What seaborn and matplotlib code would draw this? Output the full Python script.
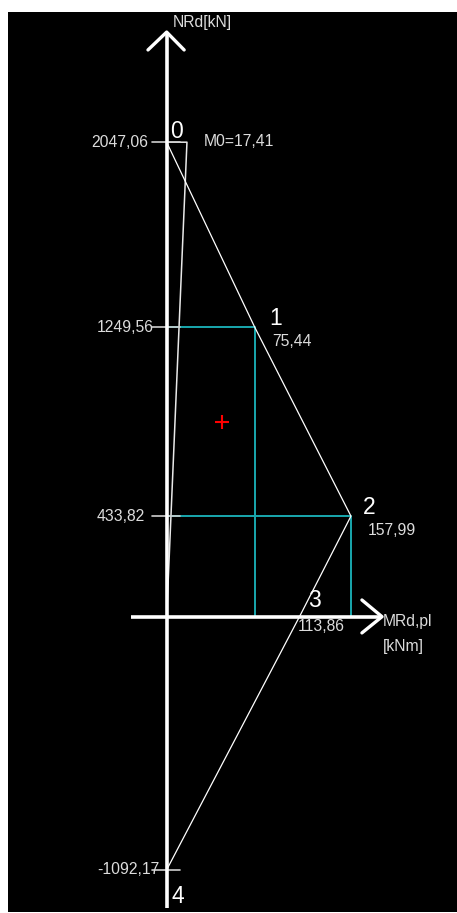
import matplotlib
matplotlib.use("Agg")
import matplotlib.pyplot as plt
import matplotlib.transforms as mtransforms
import seaborn as sns
import pandas as pd

# ---- data ----
point_names = ["0", "1", "2", "3", "4"]
m_values = [0.0, 75.44, 157.99, 113.86, 0.0]          # MRd,pl [kNm]
n_values = [2047.06, 1249.56, 433.82, 0.0, -1092.17]  # NRd [kN]
m0_value = 17.41
design_m = [47.2]
design_n = [839.0]

def fmt(v):
    return f"{v:.2f}".replace(".", ",")

sns.set_theme(style="dark")
plt.rcParams["font.family"] = ["Liberation Sans", "DejaVu Sans"]

W, H, DPI = 457, 913, 100
fig = plt.figure(figsize=(W / DPI, H / DPI), dpi=DPI, facecolor="white")
ax = fig.add_axes([8 / W, 1 / H, 449 / W, 900 / H])

def off(dx, dy):
    return mtransforms.offset_copy(ax.transData, fig=fig, x=dx, y=dy, units="dots")

AX_W = "white"
TXT = "#dcdcdc"
CYAN = "#19a8ae"

# ---- coordinate axes with chevron arrows ----
v_top, v_bot = 2522.0, -1257.0
h_left, h_right = -30.6, 184.6
ax.plot([0, 0], [v_bot, v_top], color=AX_W, lw=2.6, solid_capstyle="butt", zorder=5)
ax.plot([-16, 0, 15], [2445, v_top, 2445], color=AX_W, lw=2.4, zorder=5)
ax.plot([h_left, h_right], [0, 0], color=AX_W, lw=2.6, solid_capstyle="butt", zorder=5)
ax.plot([167.4, h_right, 167.4], [72, 0, -70], color=AX_W, lw=2.4, zorder=5)

# ---- cyan guide lines to points 1 and 2 ----
for i in (1, 2):
    ax.plot([0, m_values[i], m_values[i]], [n_values[i], n_values[i], 0],
            color=CYAN, lw=1.4, zorder=2)

# ---- ticks on N axis ----
for i in (0, 1, 2, 4):
    ax.plot([-12.6, 11.4], [n_values[i], n_values[i]], color="#cfcfcf", lw=1.2, zorder=4)

# ---- M0 construction ----
ax.plot([0, m0_value, 0], [n_values[0], n_values[0], 0], color="#e8e8e8", lw=1.1, zorder=3)

# ---- interaction curve ----
df = pd.DataFrame({"M": m_values, "N": n_values, "pt": point_names})
sns.lineplot(data=df, x="M", y="N", sort=False, estimator=None, color="white",
             lw=0.9, ax=ax, zorder=3)

# ---- design point ----
sns.scatterplot(x=design_m, y=design_n, marker="+", s=110, color="red",
                linewidth=1.5, ax=ax, zorder=6)

ax.set_xlim(-136.0, 248.9)
ax.set_ylim(-1274.0, 2608.7)
ax.set_facecolor("black")
ax.grid(False)
ax.set_xticks([])
ax.set_yticks([])
ax.set_xlabel("")
ax.set_ylabel("")
for sp in ax.spines.values():
    sp.set_visible(False)

SMALL = 11.3
BIG = 16.5

# point numbers
num_off = {"0": (3.5, 11), "1": (15, 9), "2": (12, 9), "3": (8.5, 16), "4": (5, -27)}
for name, m, n in zip(point_names, m_values, n_values):
    dx, dy = num_off[name]
    ax.text(m, n, name, transform=off(dx, dy), color="white", fontsize=BIG,
            ha="left", va="center", zorder=7)

# M values next to points
val_off = {1: (18, -14), 2: (17, -14), 3: (-1.5, -10)}
for i, (dx, dy) in val_off.items():
    ax.text(m_values[i], n_values[i], fmt(m_values[i]), transform=off(dx, dy),
            color=TXT, fontsize=SMALL, ha="left", va="center", zorder=7)

ax.text(m_values[0], n_values[0], f"M0={fmt(m0_value)}", transform=off(37, 1),
        color=TXT, fontsize=SMALL, ha="left", va="center", zorder=7)

# N tick labels
for i in (0, 1, 2, 4):
    dx = -75.7 if i == 0 else -69.7
    ax.text(0, n_values[i], fmt(n_values[i]), transform=off(dx, 0),
            color=TXT, fontsize=SMALL, ha="left", va="center", zorder=7)

# axis titles
ax.text(0, v_top, "NRd[kN]", transform=off(6, 10), color=TXT, fontsize=SMALL,
        ha="left", va="center", zorder=7)
ax.text(h_right, 0, "MRd,pl", transform=off(1, -4.5), color=TXT, fontsize=SMALL,
        ha="left", va="center", zorder=7)
ax.text(h_right, 0, "[kNm]", transform=off(1, -29.5), color=TXT, fontsize=SMALL,
        ha="left", va="center", zorder=7)

fig.savefig("out.png", dpi=DPI, facecolor="white")
